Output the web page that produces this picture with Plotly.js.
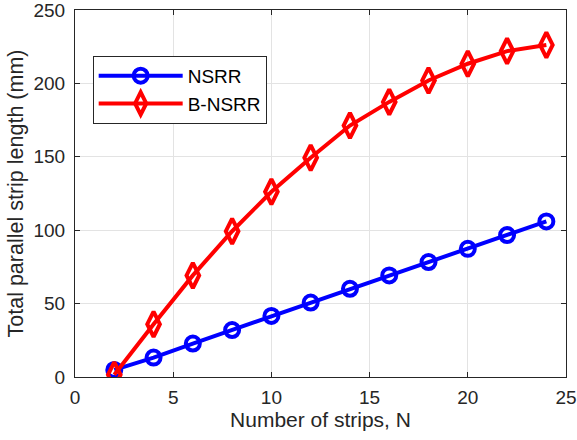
<!DOCTYPE html>
<html>
<head>
<meta charset="utf-8">
<script src="https://cdn.plot.ly/plotly-3.0.1.min.js"></script>
<style>
  html, body { margin: 0; padding: 0; background: #fff; }
  #chart { width: 577px; height: 440px; }
</style>
</head>
<body>
<div id="chart"></div>
<script>
// Number of strips
const strips = [2, 4, 6, 8, 10, 12, 14, 16, 18, 20, 22, 24];
// Total parallel strip length (mm)
const nsrr = [4.8, 13.2, 22.8, 32.0, 41.6, 50.7, 60.1, 69.2, 78.3, 87.3, 96.7, 106.0];
const bnsrr = [1.5, 36.0, 69.2, 99.3, 126.2, 149.4, 171.3, 187.4, 202.0, 213.4, 222.0, 226.2];
// Axis ticks
const xTicks = [0, 5, 10, 15, 20, 25];
const yTicks = [0, 50, 100, 150, 200, 250];

const axisColor = '#262626';
const gridColor = '#e3e3e3';
const fontFamily = 'Liberation Sans, Arial, sans-serif';

const traces = [
  {
    x: strips, y: nsrr, name: 'NSRR', type: 'scatter', mode: 'lines+markers',
    line: { color: '#0000ff', width: 4 },
    marker: { symbol: 'circle-open', size: 14, color: '#0000ff', line: { width: 4, color: '#0000ff' } }
  },
  {
    x: strips, y: bnsrr, name: 'B-NSRR', type: 'scatter', mode: 'lines+markers',
    line: { color: '#ff0000', width: 4 },
    marker: { symbol: 'diamond-tall-open', size: 18, color: '#ff0000', line: { width: 4, color: '#ff0000' } }
  }
];

const axisCommon = {
  showgrid: true, gridcolor: gridColor, gridwidth: 1,
  zeroline: false, showline: true, linecolor: axisColor, linewidth: 1, mirror: 'ticks',
  ticks: 'inside', ticklen: 5, tickcolor: axisColor,
  ticklabeloverflow: 'allow',
  tickfont: { family: fontFamily, size: 19, color: axisColor }
};

const layout = {
  width: 577, height: 440,
  margin: { l: 75, r: 11, t: 10, b: 63 },
  paper_bgcolor: '#ffffff', plot_bgcolor: '#ffffff',
  font: { family: fontFamily, size: 19, color: axisColor },
  showlegend: true,
  legend: {
    x: 0.036, y: 0.875, xanchor: 'left', yanchor: 'top',
    bgcolor: '#ffffff', bordercolor: axisColor, borderwidth: 1,
    font: { family: fontFamily, size: 19, color: '#000000' },
    itemwidth: 84, tracegroupgap: 0
  },
  xaxis: Object.assign({}, axisCommon, {
    range: [0, 25], tickvals: xTicks, ticktext: xTicks.map(String),
    ticklabelstandoff: 3,
    title: { text: 'Number of strips, N', font: { family: fontFamily, size: 21, color: axisColor }, standoff: 2 }
  }),
  yaxis: Object.assign({}, axisCommon, {
    range: [0, 250], tickvals: yTicks, ticktext: yTicks.map(String),
    ticklabelstandoff: 5,
    title: { text: 'Total parallel strip length (mm)', font: { family: fontFamily, size: 21.5, color: axisColor }, standoff: 3 }
  })
};

Plotly.newPlot('chart', traces, layout, { displayModeBar: false, staticPlot: true });
</script>
</body>
</html>
